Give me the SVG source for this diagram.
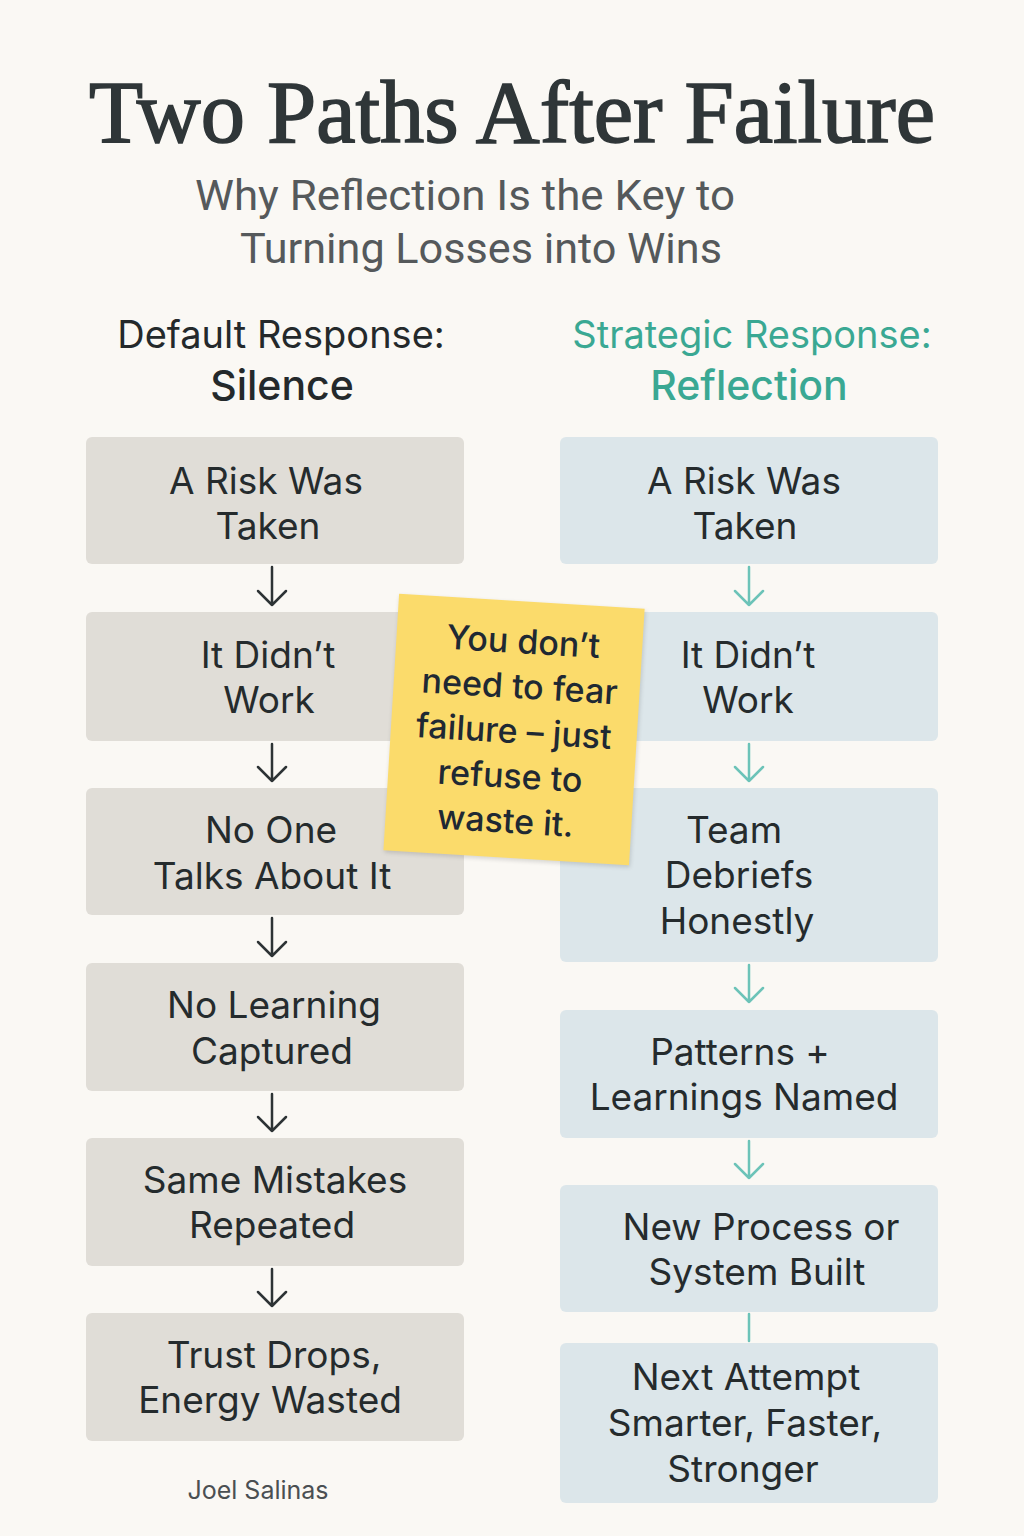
<svg xmlns="http://www.w3.org/2000/svg" width="1024" height="1536" viewBox="0 0 1024 1536">
<defs>
<style>
.bg{fill:#faf8f4}
.title{font-family:"Liberation Serif","Times New Roman",serif;font-weight:400;font-size:88px;fill:#2f3638;stroke:#2f3638;stroke-width:1.6px}
.sub{font-family:Roboto,"Noto Sans",sans-serif;font-weight:400;font-size:42px;fill:#55595b}
.hdL{font-family:Inter,"Noto Sans",sans-serif;font-size:38px;fill:#24292b}
.hdR{font-family:Inter,"Noto Sans",sans-serif;font-size:38px;fill:#3aa893}
.b{font-weight:500;font-size:41px}
.lbox{fill:#e0ddd7}
.rbox{fill:#dce6ea}
.t{font-family:Inter,"Noto Sans",sans-serif;font-size:37px;fill:#252b2d;text-anchor:middle}
.la{stroke:#2d3335;stroke-width:2.5;fill:none;stroke-linecap:round;stroke-linejoin:round}
.ra{stroke:#6cc3b8;stroke-width:2.5;fill:none;stroke-linecap:round;stroke-linejoin:round}
.note{fill:#fbdb6b}
.nt{font-family:Inter,"Noto Sans",sans-serif;font-weight:500;font-size:34px;fill:#1f2933;text-anchor:middle}
.foot{font-family:Inter,"Noto Sans",sans-serif;font-size:25px;fill:#4a4f52;text-anchor:middle}
</style>
</defs>
<rect class="bg" x="0" y="0" width="1024" height="1536"/>

<g id="title">
<text class="title" x="89" y="142" textLength="846" lengthAdjust="spacingAndGlyphs">Two Paths After Failure</text>
<text class="sub" x="195" y="210" textLength="540" lengthAdjust="spacingAndGlyphs">Why Reflection Is the Key to</text>
<text class="sub" x="240" y="263" textLength="482" lengthAdjust="spacingAndGlyphs">Turning Losses into Wins</text>
</g>

<g id="header-left">
<text class="hdL" x="281" y="348" text-anchor="middle">Default Response:</text>
<text class="hdL b" x="282" y="400" text-anchor="middle">Silence</text>
</g>
<g id="header-right">
<text class="hdR" x="752" y="348" text-anchor="middle">Strategic Response:</text>
<text class="hdR b" x="749" y="400" text-anchor="middle">Reflection</text>
</g>

<g id="connectors">
<path class="la" d="M272 567V605M258 591L272 605L286 591"/>
<path class="la" d="M272 744V781M258 767L272 781L286 767"/>
<path class="la" d="M272 918V956M258 942L272 956L286 942"/>
<path class="la" d="M272 1094V1131M258 1117L272 1131L286 1117"/>
<path class="la" d="M272 1269V1306M258 1292L272 1306L286 1292"/>
<path class="ra" d="M749 567V605M735 591L749 605L763 591"/>
<path class="ra" d="M749 744V781M735 767L749 781L763 767"/>
<path class="ra" d="M749 965V1002M735 988L749 1002L763 988"/>
<path class="ra" d="M749 1141V1178M735 1164L749 1178L763 1164"/>
<path class="ra" d="M749 1314V1341"/>
</g>

<g id="L1"><rect class="lbox" x="86" y="437" width="378" height="127" rx="6"/>
<text class="t" x="266" y="494">A Risk Was</text><text class="t" x="268" y="539">Taken</text></g>
<g id="L2"><rect class="lbox" x="86" y="612" width="378" height="129" rx="6"/>
<text class="t" x="268" y="668">It Didn’t</text><text class="t" x="269" y="713">Work</text></g>
<g id="L3"><rect class="lbox" x="86" y="788" width="378" height="127" rx="6"/>
<text class="t" x="271" y="843">No One</text><text class="t" x="272" y="889">Talks About It</text></g>
<g id="L4"><rect class="lbox" x="86" y="963" width="378" height="128" rx="6"/>
<text class="t" x="274" y="1018">No Learning</text><text class="t" x="272" y="1064">Captured</text></g>
<g id="L5"><rect class="lbox" x="86" y="1138" width="378" height="128" rx="6"/>
<text class="t" x="275" y="1193">Same Mistakes</text><text class="t" x="272" y="1238">Repeated</text></g>
<g id="L6"><rect class="lbox" x="86" y="1313" width="378" height="128" rx="6"/>
<text class="t" x="274" y="1368">Trust Drops,</text><text class="t" x="270" y="1413">Energy Wasted</text></g>

<g id="R1"><rect class="rbox" x="560" y="437" width="378" height="127" rx="6"/>
<text class="t" x="744" y="494">A Risk Was</text><text class="t" x="745" y="539">Taken</text></g>
<g id="R2"><rect class="rbox" x="560" y="612" width="378" height="129" rx="6"/>
<text class="t" x="748" y="668">It Didn’t</text><text class="t" x="748" y="713">Work</text></g>
<g id="R3"><rect class="rbox" x="560" y="788" width="378" height="174" rx="6"/>
<text class="t" x="734" y="843">Team</text><text class="t" x="739" y="888">Debriefs</text><text class="t" x="737" y="934">Honestly</text></g>
<g id="R4"><rect class="rbox" x="560" y="1010" width="378" height="128" rx="6"/>
<text class="t" x="740" y="1065">Patterns +</text><text class="t" x="744" y="1110">Learnings Named</text></g>
<g id="R5"><rect class="rbox" x="560" y="1185" width="378" height="127" rx="6"/>
<text class="t" x="761" y="1240">New Process or</text><text class="t" x="757" y="1285">System Built</text></g>
<g id="R6"><rect class="rbox" x="560" y="1343" width="378" height="160" rx="6"/>
<text class="t" x="746" y="1390">Next Attempt</text><text class="t" x="745" y="1436">Smarter, Faster,</text><text class="t" x="743" y="1482">Stronger</text></g>

<g id="note" transform="rotate(3.5 514 730)">
<rect x="391" y="601" width="246" height="257" class="note" style="filter:drop-shadow(1px 2px 2px rgba(0,0,0,0.15))"/>
<text class="nt" x="518" y="653">You don’t</text>
<text class="nt" x="517" y="698">need to fear</text>
<text class="nt" x="514" y="743">failure – just</text>
<text class="nt" x="513" y="788">refuse to</text>
<text class="nt" x="511" y="833">waste it.</text>
</g>

<g id="footer"><text class="foot" x="258" y="1499">Joel Salinas</text></g>
</svg>
